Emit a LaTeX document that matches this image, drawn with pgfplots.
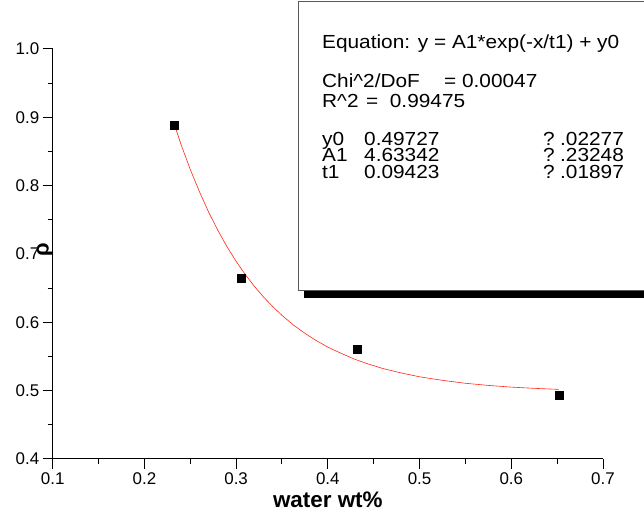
\documentclass[border=0pt]{standalone}
\usepackage{fontspec}
\setmainfont{Liberation Sans}
\newfontfamily\boxfont[FakeStretch=1.1]{Liberation Sans}
\usepackage{pgfplots}
\pgfplotsset{compat=1.18}

\pgfplotstableread{
x      y
0.233  0.888
0.306  0.665
0.432  0.560
0.652  0.493
}\measured

\pgfplotstableread{
x      y
0.233  0.8880
0.240  0.8600
0.250  0.8236
0.260  0.7912
0.270  0.7612
0.280  0.7348
0.290  0.7107
0.300  0.6892
0.310  0.6699
0.320  0.6525
0.330  0.6369
0.340  0.6229
0.350  0.6102
0.362  0.5965
0.375  0.5839
0.387  0.5736
0.400  0.5637
0.415  0.5543
0.430  0.5456
0.445  0.5386
0.460  0.5324
0.480  0.5259
0.500  0.5203
0.525  0.5151
0.550  0.5108
0.575  0.5077
0.600  0.5052
0.625  0.5034
0.652  0.5019
}\fitcurve

\definecolor{fitred}{RGB}{255,40,20}

\begin{document}
\begin{tikzpicture}[x=1bp,y=1bp]
\clip (-52.7,-66) rectangle (591.3,459);
\path[use as bounding box] (-52.7,-66) rectangle (591.3,459);
\begin{axis}[
  at={(0,0)}, anchor=south west,
  scale only axis, width=550.3bp, height=410bp,
  xmin=0.1, xmax=0.7, ymin=0.4, ymax=1.0,
  axis x line*=bottom, axis y line*=left,
  xtick={0.1,0.2,0.3,0.4,0.5,0.6,0.7},
  ytick={0.4,0.5,0.6,0.7,0.8,0.9,1.0},
  minor tick num=1,
  tick align=outside,
  major tick length=10bp, minor tick length=5bp,
  every tick/.style={black, line width=1bp},
  axis line style={line width=1bp},
  /pgf/number format/assume math mode=true,
  /pgf/number format/.cd, fixed, fixed zerofill, precision=1, /pgfplots/.cd,
  tick label style={font=\fontsize{17}{17}\selectfont},
  xlabel={water wt\%},
  xlabel style={font=\bfseries\fontsize{22.5}{22.5}\selectfont, yshift=-1bp},
  clip=false,
]
\addplot[fitred, line width=0.6bp, no marks] table[x=x, y=y] {\fitcurve};
\addplot[only marks, mark=square*, mark size=4bp, black] table[x=x, y=y] {\measured};
\node[rotate=90, font=\bfseries\fontsize{22}{22}\selectfont] at (rel axis cs:-0.014,0.51) {ρ};
\end{axis}
\fill[black] (251.3,161) rectangle (620,168);
\draw[black!65, line width=1bp, fill=white] (245.3,168) rectangle (620,457);
\begin{scope}[every node/.style={anchor=base west, inner sep=0pt, font=\boxfont\fontsize{19}{19}\selectfont}]
\node at (269.3,410.7) {Equation: y = A1*exp(-x/t1) + y0};
\node at (269.3,371.7) {Chi\textasciicircum 2/DoF};
\node at (391.3,371.7) {= 0.00047};
\node at (269.3,351.7) {R\textasciicircum 2};
\node at (313.3,351.7) {=\ \ 0.99475};
\node at (269.3,313.5) {y0};
\node at (311.3,313.5) {0.49727};
\node at (490.3,313.5) {?};
\node at (507.3,313.5) {.02277};
\node at (269.3,297) {A1};
\node at (311.3,297) {4.63342};
\node at (490.3,297) {?};
\node at (507.3,297) {.23248};
\node at (269.3,280.5) {t1};
\node at (311.3,280.5) {0.09423};
\node at (490.3,280.5) {?};
\node at (507.3,280.5) {.01897};
\end{scope}
\end{tikzpicture}
\end{document}
